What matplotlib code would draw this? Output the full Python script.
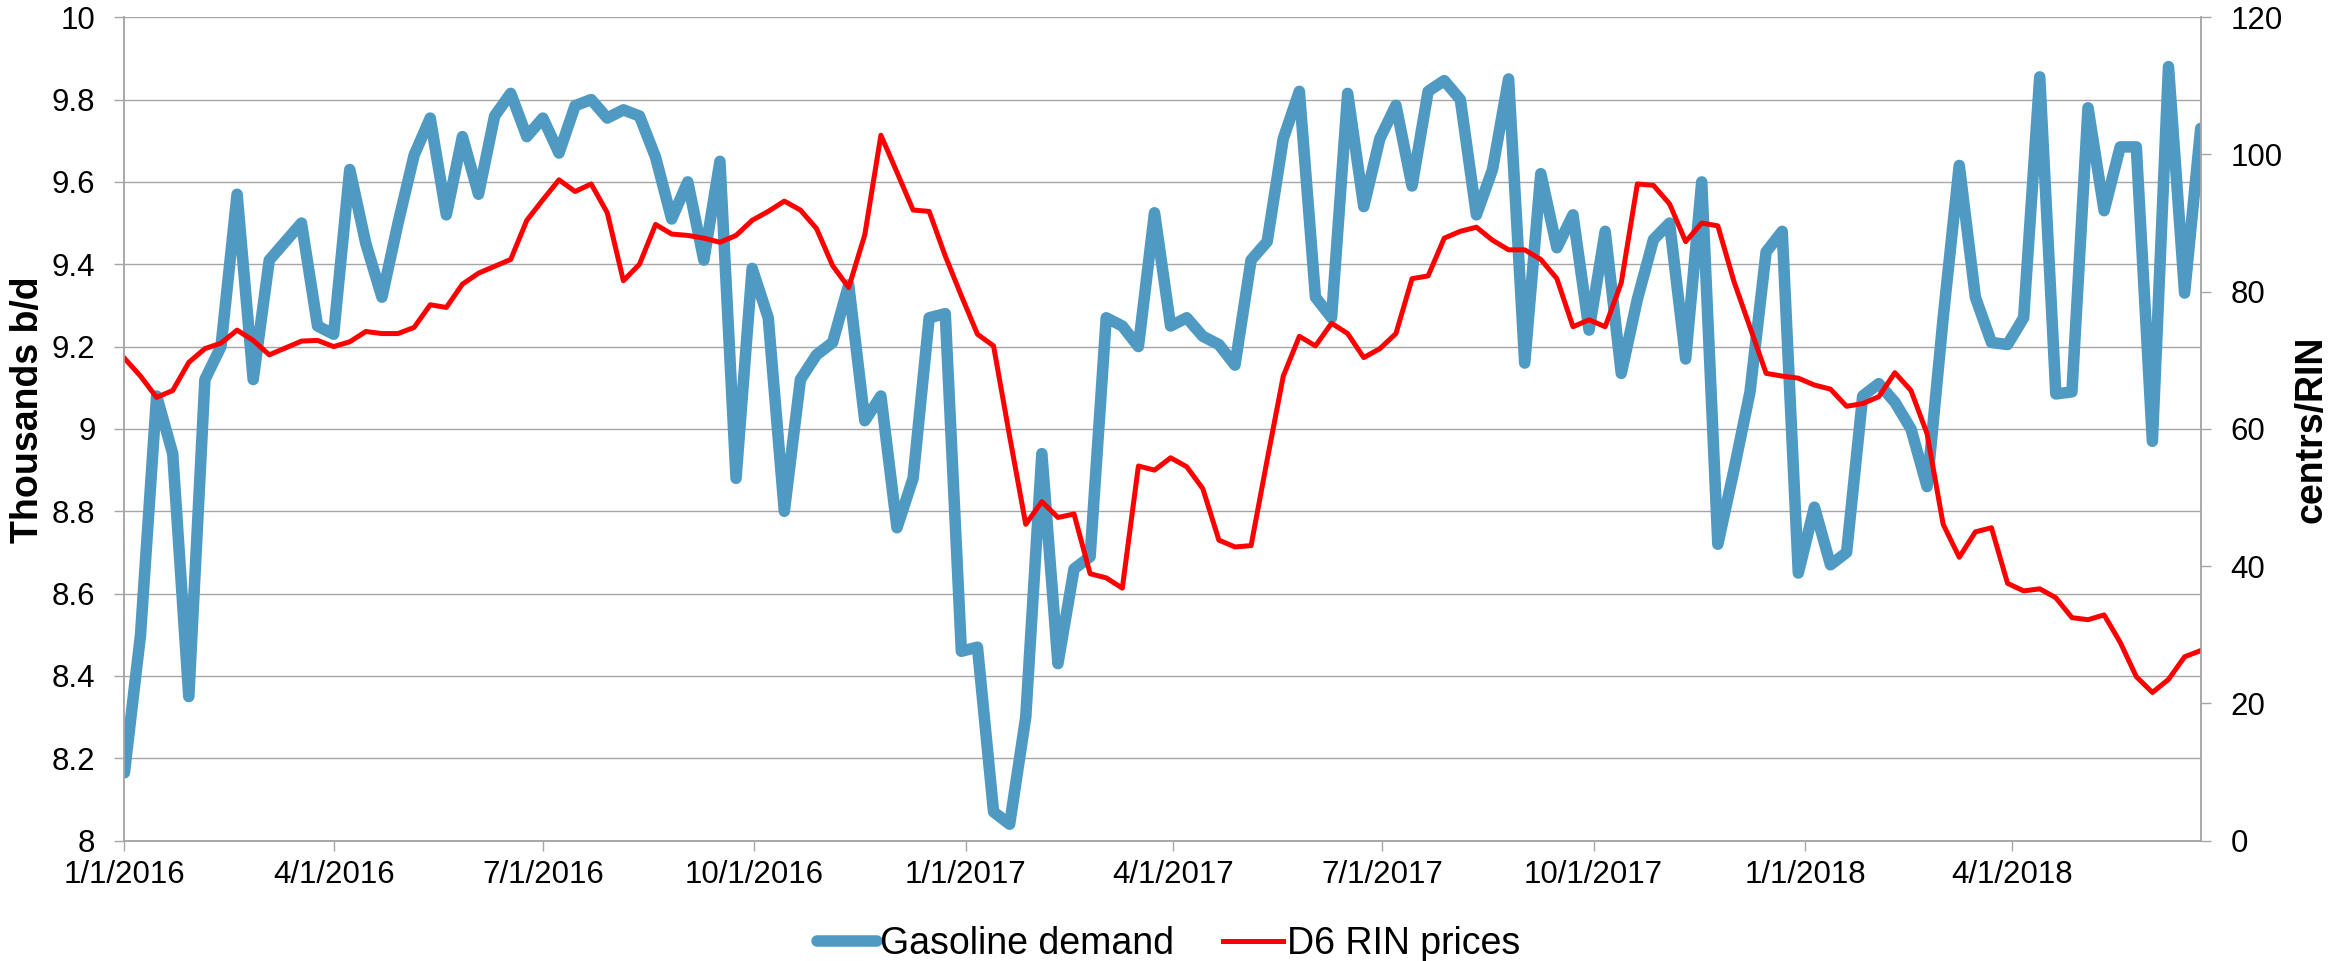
import numpy as np
import pandas as pd
import matplotlib
matplotlib.use('Agg')
import matplotlib.pyplot as plt
import matplotlib.dates as mdates
from matplotlib.ticker import FixedLocator, FuncFormatter

plt.rcParams['font.family'] = ['Liberation Sans', 'DejaVu Sans']

# weekly data, Fridays from 1/1/2016
weeks = pd.date_range('2016-01-01', periods=130, freq='7D')

gasoline = [8.165, 8.50, 9.08, 8.94, 8.35, 9.12, 9.20, 9.57, 9.12, 9.41,
            9.455, 9.50, 9.25, 9.23, 9.63, 9.45, 9.32, 9.50, 9.665, 9.755,
            9.52, 9.71, 9.57, 9.76, 9.815, 9.71, 9.755, 9.67, 9.785, 9.80,
            9.755, 9.775, 9.76, 9.66, 9.51, 9.60, 9.41, 9.65, 8.88, 9.39,
            9.27, 8.80, 9.12, 9.18, 9.21, 9.35, 9.02, 9.08, 8.76, 8.88,
            9.27, 9.28, 8.46, 8.47, 8.07, 8.04, 8.30, 8.94, 8.43, 8.66,
            8.69, 9.27, 9.25, 9.20, 9.525, 9.25, 9.27, 9.225, 9.205, 9.155,
            9.41, 9.455, 9.705, 9.82, 9.32, 9.27, 9.815, 9.54, 9.705, 9.786,
            9.59, 9.82, 9.846, 9.80, 9.52, 9.63, 9.85, 9.16, 9.62, 9.44,
            9.52, 9.24, 9.48, 9.135, 9.315, 9.46, 9.50, 9.17, 9.60, 8.72,
            8.90, 9.09, 9.43, 9.48, 8.65, 8.81, 8.67, 8.70, 9.08, 9.11,
            9.065, 9.00, 8.86, 9.27, 9.64, 9.32, 9.21, 9.205, 9.27, 9.855,
            9.085, 9.09, 9.78, 9.53, 9.685, 9.685, 8.97, 9.88, 9.33, 9.73]

rin = [70.3, 67.7, 64.6, 65.6, 69.7, 71.7, 72.5, 74.4, 72.9, 70.8,
       71.8, 72.8, 72.9, 72.0, 72.7, 74.2, 73.9, 73.9, 74.8, 78.1,
       77.7, 81.1, 82.7, 83.7, 84.7, 90.4, 93.4, 96.3, 94.6, 95.7,
       91.5, 81.6, 84.0, 89.8, 88.4, 88.2, 87.8, 87.2, 88.2, 90.4,
       91.7, 93.2, 91.9, 89.2, 83.8, 80.6, 88.3, 102.8, 97.4, 91.9,
       91.7, 85.2, 79.4, 73.8, 72.1, 58.9, 46.1, 49.4, 47.1, 47.6,
       38.9, 38.3, 36.8, 54.6, 54.0, 55.8, 54.5, 51.3, 43.8, 42.8,
       43.0, 55.5, 67.7, 73.5, 72.1, 75.4, 73.9, 70.4, 71.7, 73.9,
       81.9, 82.3, 87.8, 88.8, 89.4, 87.5, 86.1, 86.1, 84.7, 81.9,
       74.9, 75.9, 74.9, 81.3, 95.7, 95.5, 92.8, 87.3, 90.0, 89.6,
       81.5, 74.8, 68.1, 67.7, 67.4, 66.4, 65.8, 63.3, 63.7, 64.7,
       68.2, 65.6, 59.3, 46.1, 41.3, 45.0, 45.6, 37.5, 36.4, 36.7,
       35.4, 32.5, 32.2, 32.9, 28.9, 23.9, 21.6, 23.5, 26.8, 27.7]

x_ticks = pd.date_range('2016-01-01', '2018-04-01', freq='QS')
left_ticks = np.arange(8, 10.01, 0.2)
right_ticks = np.arange(0, 121, 20)

blue = '#4F9AC3'
red = '#FF0000'
grey = '#A6A6A6'

fig = plt.figure(figsize=(23.3, 9.61), dpi=100)
ax = fig.add_axes([0.0534, 0.1252, 0.8911, 0.8569])
ax2 = ax.twinx()

l1, = ax.plot(weeks, gasoline, color=blue, lw=8.3,
              solid_joinstyle='round', solid_capstyle='round', label='Gasoline demand')
l2, = ax2.plot(weeks, rin, color=red, lw=3.6,
               solid_joinstyle='round', label='D6 RIN prices')

ax.set_xlim(weeks[0], weeks[-1])
ax.set_ylim(8, 10)
ax2.set_ylim(0, 120)

ax.yaxis.set_major_locator(FixedLocator(left_ticks))
ax.yaxis.set_major_formatter(FuncFormatter(lambda v, p: f'{round(v, 1):g}'))
ax2.yaxis.set_major_locator(FixedLocator(right_ticks))
ax.xaxis.set_major_locator(FixedLocator(mdates.date2num(x_ticks)))
ax.xaxis.set_major_formatter(FuncFormatter(
    lambda v, p: '{d.month}/{d.day}/{d.year}'.format(d=mdates.num2date(v))))

ax.grid(axis='y', color=grey, lw=1.0)
ax.set_axisbelow(True)

for a in (ax, ax2):
    a.spines['top'].set_visible(False)
    for s in ('left', 'right', 'bottom'):
        a.spines[s].set_color(grey)
        a.spines[s].set_linewidth(1.1)

ax.tick_params(axis='y', length=7.2, width=1.0, color=grey, labelsize=22.5, pad=13.7)
ax2.tick_params(axis='y', length=7.2, width=1.0, color=grey, labelsize=22.5, pad=14.4)
ax.tick_params(axis='x', length=7.2, width=1.0, color=grey, labelsize=22.5, pad=7)

ax.set_ylabel('Thousands b/d', fontsize=27, fontweight='bold')
ax.yaxis.set_label_coords(-0.038, 0.523)
ax2.set_ylabel('centrs/RIN', fontsize=27, fontweight='bold')
ax2.yaxis.set_label_coords(1.0445, 0.5)

fig.legend([l1, l2], ['Gasoline demand', 'D6 RIN prices'], loc='center',
           bbox_to_anchor=(0.5015, 0.018), ncol=2, frameon=False, fontsize=27,
           handlelength=1.6, handletextpad=0.1, columnspacing=1.3)

fig.savefig('out.png', dpi=100)
